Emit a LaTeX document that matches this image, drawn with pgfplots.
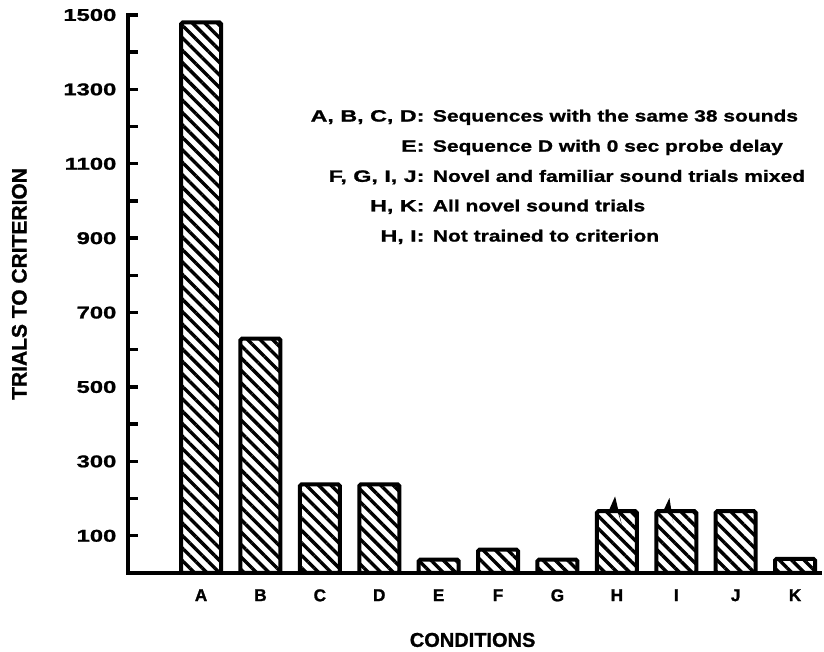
\documentclass[border=0pt]{standalone}
\usepackage{fontspec}
\setmainfont{Liberation Sans}
\newfontfamily\wfont[FakeStretch=1.28, FakeBold=1.2]{Liberation Sans Bold}
\newfontfamily\lfont[FakeStretch=1.42, FakeBold=1.2]{Liberation Sans Bold}
\newfontfamily\tfont[FakeStretch=1.4, FakeBold=1.2]{Liberation Sans Bold}
\newfontfamily\bfont[FakeBold=1.2]{Liberation Sans Bold}
\usepackage{pgfplots}
\pgfplotsset{compat=1.18}
\usetikzlibrary{patterns.meta}
\begin{document}
\begin{tikzpicture}
\useasboundingbox (-64pt,-39.5pt) rectangle (348pt,286.5pt);
\begin{axis}[
  scale only axis, width=346pt, height=279pt,
  xmin=-1.23, xmax=10.42, ymin=0, ymax=1500,
  axis lines*=left,
  axis line style={line width=2pt, line cap=rect},
  xtick={0,1,2,3,4,5,6,7,8,9,10},
  xticklabels={A,B,C,D,E,F,G,H,I,J,K},
  major x tick style={draw=none},
  ytick={100,300,500,700,900,1100,1300,1500},
  yticklabels={100,300,500,700,900,1100,1300,1500},
  minor ytick={200,400,600,800,1000,1200,1400},
  tick align=inside,
  major tick length=5pt, minor tick length=5pt,
  every tick/.style={black, line width=1.7pt},
  yticklabel style={font=\tfont\fontsize{8.5}{10}\selectfont, xshift=-2.3pt},
  xticklabel style={font=\bfont\fontsize{8.6}{10}\selectfont, yshift=-4.6pt},
  xlabel={CONDITIONS}, ylabel={TRIALS TO CRITERION},
  every axis x label/.style={at={(axis description cs:0.498,-0.12)}, anchor=center, font=\bfont\fontsize{10}{12}\selectfont},
  every axis y label/.style={at={(axis description cs:-0.157,0.518)}, anchor=center, rotate=90, font=\bfont\fontsize{10.5}{12}\selectfont},
  clip=false,
]
\addplot[ybar, bar width=20pt, draw=black, line width=2pt, rounded corners=0.8pt,
  pattern={Lines[angle=-45, distance=4.4pt, line width=1.7pt]}]
  coordinates {(0,1480) (1,630) (2,238) (3,238) (4,36) (5,63) (6,36) (7,166) (8,166) (9,166) (10,38)};
% break marks on H and I (not trained to criterion)
\fill[black] (axis cs:6.86,166) -- (axis cs:6.97,206) -- (axis cs:7.08,132) -- (axis cs:7.01,166) -- cycle;
\fill[black] (axis cs:7.78,166) -- (axis cs:7.885,202) -- (axis cs:7.95,134) -- (axis cs:7.92,166) -- cycle;
\begin{scope}[every node/.style={inner sep=0pt}]
\node[anchor=base east, font=\lfont\fontsize{8.2}{10}\selectfont] at (rel axis cs:0.429,0.809) {A, B, C, D:};
\node[anchor=base west, font=\wfont\fontsize{8.2}{10}\selectfont] at (rel axis cs:0.440,0.809) {Sequences with the same 38 sounds};
\node[anchor=base east, font=\lfont\fontsize{8.2}{10}\selectfont] at (rel axis cs:0.429,0.755) {E:};
\node[anchor=base west, font=\wfont\fontsize{8.2}{10}\selectfont] at (rel axis cs:0.440,0.755) {Sequence D with 0 sec probe delay};
\node[anchor=base east, font=\lfont\fontsize{8.2}{10}\selectfont] at (rel axis cs:0.429,0.701) {F, G, I, J:};
\node[anchor=base west, font=\wfont\fontsize{8.2}{10}\selectfont] at (rel axis cs:0.440,0.701) {Novel and familiar sound trials mixed};
\node[anchor=base east, font=\lfont\fontsize{8.2}{10}\selectfont] at (rel axis cs:0.429,0.648) {H, K:};
\node[anchor=base west, font=\wfont\fontsize{8.2}{10}\selectfont] at (rel axis cs:0.440,0.648) {All novel sound trials};
\node[anchor=base east, font=\lfont\fontsize{8.2}{10}\selectfont] at (rel axis cs:0.429,0.594) {H, I:};
\node[anchor=base west, font=\wfont\fontsize{8.2}{10}\selectfont] at (rel axis cs:0.440,0.594) {Not trained to criterion};
\end{scope}
\end{axis}
\end{tikzpicture}
\end{document}
